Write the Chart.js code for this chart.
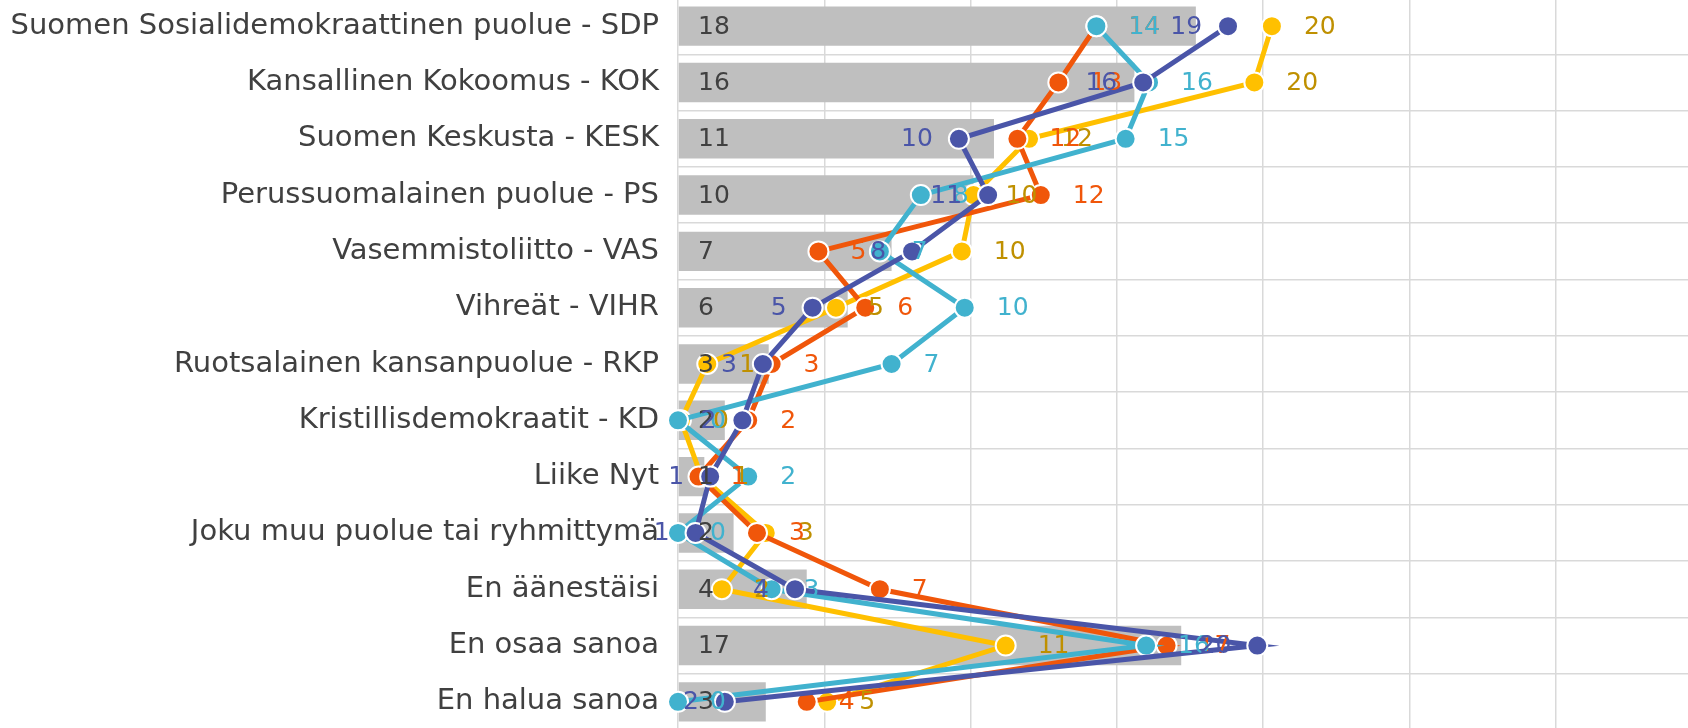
<!DOCTYPE html>
<html>
<head>
<meta charset="utf-8">
<script src="https://cdn.jsdelivr.net/npm/chart.js@4.4.0/dist/chart.umd.min.js"></script>
<style>
    html, body { margin: 0; padding: 0; background: #fff; overflow: hidden; }
    #wrap { position: absolute; left: 0; top: -2px; width: 1702px; height: 732px; }
</style>
</head>
<body>
<div id="wrap"><canvas id="chart"></canvas></div>
<script>
const categories = [
    'Suomen Sosialidemokraattinen puolue - SDP',
    'Kansallinen Kokoomus - KOK',
    'Suomen Keskusta - KESK',
    'Perussuomalainen puolue - PS',
    'Vasemmistoliitto - VAS',
    'Vihreät - VIHR',
    'Ruotsalainen kansanpuolue - RKP',
    'Kristillisdemokraatit - KD',
    'Liike Nyt',
    'Joku muu puolue tai ryhmittymä',
    'En äänestäisi',
    'En osaa sanoa',
    'En halua sanoa'
];

// gray bars
const totalValues = [17.7, 15.6, 10.8, 10.1, 7.3, 5.8, 3.1, 1.6, 0.9, 1.9, 4.4, 17.2, 3.0];
// line series
const orangeValues = [14.3, 13.0, 11.6, 12.4, 4.8, 6.4, 3.2, 2.4, 0.7, 2.7, 6.9, 16.7, 4.4];
const yellowValues = [20.3, 19.7, 12.0, 10.1, 9.7, 5.4, 1.0, 0.1, 0.8, 3.0, 1.5, 11.2, 5.1];
const tealValues = [14.3, 16.1, 15.3, 8.3, 6.9, 9.8, 7.3, 0.0, 2.4, 0.0, 3.2, 16.0, 0.0];
const navyValues = [18.8, 15.9, 9.6, 10.6, 8.0, 4.6, 2.9, 2.2, 1.1, 0.6, 4.0, 19.8, 1.6];

const xTicks = [0, 5, 10, 15, 20, 25, 30, 35];

document.addEventListener('DOMContentLoaded', function() {
    const FONT = '"DejaVu Sans", Verdana, sans-serif';

    // numbers next to bars and points
    const valueLabels = {
        id: 'valueLabels',
        afterDatasetsDraw(chart) {
            const ctx = chart.ctx;
            ctx.save();
            ctx.font = '25px ' + FONT;
            ctx.textBaseline = 'middle';
            chart.data.datasets.forEach((ds, i) => {
                const meta = chart.getDatasetMeta(i);
                meta.data.forEach((el, j) => {
                    const text = String(Math.round(ds.data[j]));
                    ctx.fillStyle = ds.labelColor;
                    if (ds.type === 'bar') {
                        ctx.textAlign = 'left';
                        ctx.fillText(text, chart.chartArea.left + 20, el.y + 1);
                    } else if (ds.labelSide === 'left') {
                        ctx.textAlign = 'right';
                        ctx.fillText(text, el.x - 26, el.y + 1);
                    } else {
                        ctx.textAlign = 'left';
                        ctx.fillText(text, el.x + 32, el.y + 1);
                    }
                });
            });
            ctx.restore();
        }
    };

    function lineSet(values, color, labelColor, order, side) {
        return {
            type: 'line',
            data: values,
            borderColor: color,
            backgroundColor: color,
            borderWidth: 5,
            pointRadius: 10,
            pointHoverRadius: 10,
            pointBackgroundColor: color,
            pointBorderColor: '#ffffff',
            pointBorderWidth: 2,
            tension: 0,
            fill: false,
            clip: false,
            order: order,
            labelColor: labelColor,
            labelSide: side
        };
    }

    new Chart(document.getElementById('chart').getContext('2d'), {
        type: 'bar',
        data: {
            labels: categories,
            datasets: [
                {
                    type: 'bar',
                    data: totalValues,
                    backgroundColor: '#BFBFBF',
                    barPercentage: 1,
                    categoryPercentage: 0.7,
                    order: 10,
                    labelColor: '#404040'
                },
                lineSet(yellowValues, '#FFC000', '#BF9000', 4, 'right'),
                lineSet(orangeValues, '#F0560A', '#F0560A', 3, 'right'),
                lineSet(tealValues, '#41B2CE', '#41B2CE', 2, 'right'),
                lineSet(navyValues, '#4A55A8', '#4A55A8', 1, 'left')
            ]
        },
        options: {
            indexAxis: 'y',
            responsive: true,
            maintainAspectRatio: false,
            animation: false,
            layout: { padding: 0, autoPadding: false },
            plugins: {
                legend: { display: false },
                tooltip: { enabled: false },
                title: { display: false }
            },
            scales: {
                x: {
                    min: 0,
                    max: 35,
                    afterBuildTicks: (scale) => {
                        scale.ticks = xTicks.map(v => ({ value: v }));
                    },
                    afterFit: (scale) => {
                        scale.height = 0;
                        scale.paddingLeft = 0;
                        scale.paddingRight = 0;
                    },
                    ticks: { display: false },
                    border: { display: false },
                    grid: { color: '#D9D9D9', lineWidth: 1.5, drawTicks: false }
                },
                y: {
                    offset: true,
                    afterFit: (scale) => {
                        scale.width = 678;
                        scale.paddingTop = 0;
                        scale.paddingBottom = 0;
                    },
                    ticks: {
                        color: '#404040',
                        padding: 19,
                        autoSkip: false,
                        font: { family: FONT, size: 29 }
                    },
                    border: { display: false },
                    grid: { color: '#D9D9D9', lineWidth: 1.5, drawTicks: false, offset: true }
                }
            }
        },
        plugins: [valueLabels]
    });
});
</script>
</body>
</html>
